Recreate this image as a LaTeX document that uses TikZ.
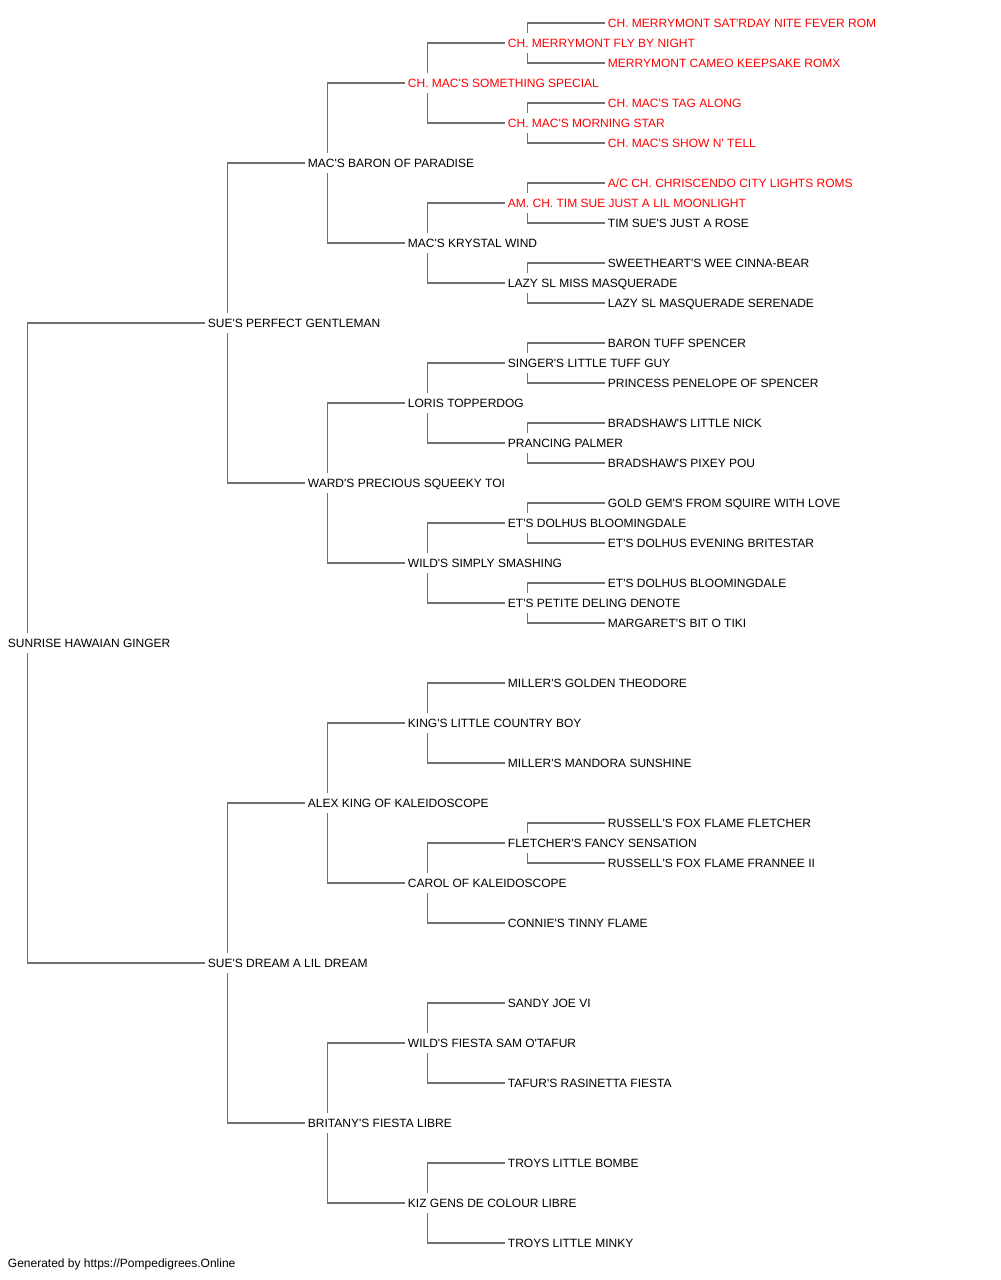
\documentclass[tikz,border=0pt]{standalone}
\usepackage{fontspec}
\setmainfont{Liberation Sans}[Ligatures=TeXOff]
\usepackage{tikz}
\usetikzlibrary{calc}
\definecolor{champred}{RGB}{255,0,0}
\definecolor{linegray}{RGB}{112,112,112}

\begin{document}
\begin{tikzpicture}[x=0.75pt, y=-0.75pt, grow'=right, growth parent anchor=west,
	edge from parent path={(\tikzchildnode.west) -| ($(\tikzparentnode.west)+(22.5,0)$)}]
\useasboundingbox (0,0) rectangle (1000,1280);
\tikzstyle{every node} = [anchor=west, inner xsep=2pt, inner ysep=0pt, text height=6.5pt, text depth=0pt, font=\fontsize{9}{11}\selectfont]
\tikzstyle{champ} = [text=champred]
\tikzstyle{edge from parent} = [draw=linegray, line width=1pt, shorten >=7.5pt]
\tikzstyle{level 1} = [level distance = 150pt, sibling distance = 480pt]
\tikzstyle{level 2} = [level distance = 75pt, sibling distance = 240pt]
\tikzstyle{level 3} = [level distance = 75pt, sibling distance = 120pt]
\tikzstyle{level 4} = [level distance = 75pt, sibling distance = 60pt]
\tikzstyle{level 5} = [level distance = 75pt, sibling distance = 30pt]
\node (ginger) at (5,643) {SUNRISE HAWAIAN GINGER}
	child {node {SUE'S PERFECT GENTLEMAN}
		child {node {MAC'S BARON OF PARADISE}
			child {node[champ] {CH. MAC'S SOMETHING SPECIAL}
				child {node[champ] {CH. MERRYMONT FLY BY NIGHT}
					child {node[champ] {CH. MERRYMONT SAT'RDAY NITE FEVER ROM}}
					child {node[champ] {MERRYMONT CAMEO KEEPSAKE ROMX}}
				}
				child {node[champ] {CH. MAC'S MORNING STAR}
					child {node[champ] {CH. MAC'S TAG ALONG}}
					child {node[champ] {CH. MAC'S SHOW N' TELL}}
				}
			}
			child {node {MAC'S KRYSTAL WIND}
				child {node[champ] {AM. CH. TIM SUE JUST A LIL MOONLIGHT}
					child {node[champ] {A/C CH. CHRISCENDO CITY LIGHTS ROMS}}
					child {node {TIM SUE'S JUST A ROSE}}
				}
				child {node {LAZY SL MISS MASQUERADE}
					child {node {SWEETHEART'S WEE CINNA-BEAR}}
					child {node {LAZY SL MASQUERADE SERENADE}}
				}
			}
		}
		child {node {WARD'S PRECIOUS SQUEEKY TOI}
			child {node {LORIS TOPPERDOG}
				child {node {SINGER'S LITTLE TUFF GUY}
					child {node {BARON TUFF SPENCER}}
					child {node {PRINCESS PENELOPE OF SPENCER}}
				}
				child {node {PRANCING PALMER}
					child {node {BRADSHAW'S LITTLE NICK}}
					child {node {BRADSHAW'S PIXEY POU}}
				}
			}
			child {node {WILD'S SIMPLY SMASHING}
				child {node {ET'S DOLHUS BLOOMINGDALE}
					child {node {GOLD GEM'S FROM SQUIRE WITH LOVE}}
					child {node {ET'S DOLHUS EVENING BRITESTAR}}
				}
				child {node {ET'S PETITE DELING DENOTE}
					child {node {ET'S DOLHUS BLOOMINGDALE}}
					child {node {MARGARET'S BIT O TIKI}}
				}
			}
		}
	}
	child {node {SUE'S DREAM A LIL DREAM}
		child {node {ALEX KING OF KALEIDOSCOPE}
			child {node {KING'S LITTLE COUNTRY BOY}
				child {node {MILLER'S GOLDEN THEODORE}}
				child {node {MILLER'S MANDORA SUNSHINE}}
			}
			child {node {CAROL OF KALEIDOSCOPE}
				child {node {FLETCHER'S FANCY SENSATION}
					child {node {RUSSELL'S FOX FLAME FLETCHER}}
					child {node {RUSSELL'S FOX FLAME FRANNEE II}}
				}
				child {node {CONNIE'S TINNY FLAME}}
			}
		}
		child {node {BRITANY'S FIESTA LIBRE}
			child {node {WILD'S FIESTA SAM O'TAFUR}
				child {node {SANDY JOE VI}}
				child {node {TAFUR'S RASINETTA FIESTA}}
			}
			child {node {KIZ GENS DE COLOUR LIBRE}
				child {node {TROYS LITTLE BOMBE}}
				child {node {TROYS LITTLE MINKY}}
			}
		}
	};
\node (credit) at (5,1263) {Generated by https://Pompedigrees.Online};
\end{tikzpicture}
\end{document}
